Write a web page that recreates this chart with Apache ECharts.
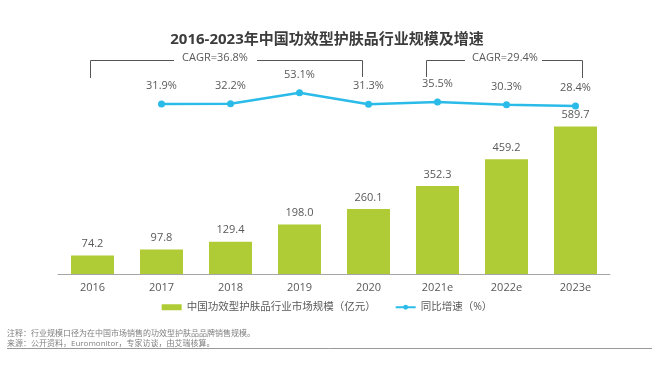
<!DOCTYPE html>
<html><head><meta charset="utf-8">
<script src="https://cdn.jsdelivr.net/npm/echarts@6/dist/echarts.min.js"></script>
<style>html,body{margin:0;padding:0;background:#fff}#c{width:654px;height:365px}</style>
</head><body><div id="c"></div>
<script>
const categories = ['2016','2017','2018','2019','2020','2021e','2022e','2023e'];
const marketSize = [74.2, 97.8, 129.4, 198.0, 260.1, 352.3, 459.2, 589.7];
const growthRate = ['-', 31.9, 32.2, 53.1, 31.3, 35.5, 30.3, 28.4];
const seriesNames = ['中国功效型护肤品行业市场规模（亿元）', '同比增速（%）'];
const titleText = '2016-2023年中国功效型护肤品行业规模及增速';
const cagrLabels = ['CAGR=36.8%', 'CAGR=29.4%'];
const notes = ['注释：行业规模口径为在中国市场销售的功效型护肤品品牌销售规模。', '来源：公开资料，Euromonitor，专家访谈，由艾瑞核算。'];

const FONT = '"Open Sans","Noto Sans CJK SC",sans-serif';
const GREEN = '#afcb35', BLUE = '#2bbbe8', TXT = '#595959', BR = '#555';
const chart = echarts.init(document.getElementById('c'));
chart.setOption({
  animation:false,
  textStyle:{fontFamily:FONT},
  title:{text:titleText, left:'center', top:27, textStyle:{fontSize:15, fontWeight:'bold', color:'#3c3c3c', fontFamily:FONT}},
  grid:[
    {left:58, right:44, top:99, bottom:91},
    {left:58, right:44, top:78.4, bottom:244}
  ],
  xAxis:[
    {type:'category', gridIndex:0, data:categories, axisTick:{show:false},
     axisLine:{lineStyle:{color:'#a6a6a6', width:1}},
     axisLabel:{color:TXT, fontSize:11, margin:8, fontFamily:FONT}},
    {type:'category', gridIndex:1, data:categories, show:false}
  ],
  yAxis:[
    {type:'value', gridIndex:0, min:0, max:700, show:false, splitLine:{show:false}},
    {type:'value', gridIndex:1, min:0, max:80, show:false, splitLine:{show:false}}
  ],
  legend:{top:297, left:'center', itemGap:19, itemWidth:20, itemHeight:6,
    textStyle:{color:TXT, fontSize:10.5, fontFamily:FONT},
    data:[{name:seriesNames[0], icon:'rect'}, {name:seriesNames[1]}]},
  series:[
    {name:seriesNames[0], type:'bar', xAxisIndex:0, yAxisIndex:0, data:marketSize, barWidth:43,
     itemStyle:{color:GREEN},
     label:{show:true, position:'top', distance:6, color:TXT, fontSize:11, fontFamily:FONT,
       formatter:p=>p.value.toFixed(1)}},
    {name:seriesNames[1], type:'line', xAxisIndex:1, yAxisIndex:1, data:growthRate,
     symbol:'circle', symbolSize:7, lineStyle:{color:BLUE, width:2.5}, itemStyle:{color:BLUE},
     label:{show:true, position:'top', distance:9, color:TXT, fontSize:11, fontFamily:FONT,
       formatter:p=>p.value.toFixed(1)+'%'}}
  ],
  graphic:[
    {type:'polyline', silent:true, shape:{points:[[90.5,78],[90.5,60.5],[174,60.5]]}, style:{stroke:BR, lineWidth:1, fill:null}},
    {type:'polyline', silent:true, shape:{points:[[257,60.5],[362.5,60.5],[362.5,77]]}, style:{stroke:BR, lineWidth:1, fill:null}},
    {type:'text', silent:true, x:215, y:58, style:{text:cagrLabels[0], fill:TXT, font:'11px '+FONT, align:'center', verticalAlign:'middle'}},
    {type:'polyline', silent:true, shape:{points:[[426.5,77],[426.5,60.5],[465,60.5]]}, style:{stroke:BR, lineWidth:1, fill:null}},
    {type:'polyline', silent:true, shape:{points:[[542,60.5],[582.5,60.5],[582.5,78]]}, style:{stroke:BR, lineWidth:1, fill:null}},
    {type:'text', silent:true, x:505, y:58, style:{text:cagrLabels[1], fill:TXT, font:'11px '+FONT, align:'center', verticalAlign:'middle'}},
    {type:'text', silent:true, x:7, y:334, style:{text:notes[0], fill:'#808080', font:'8px '+FONT, verticalAlign:'middle'}},
    {type:'text', silent:true, x:7, y:344, style:{text:notes[1], fill:'#808080', font:'8px '+FONT, verticalAlign:'middle'}},
    {type:'line', silent:true, shape:{x1:7, y1:348.5, x2:652, y2:348.5}, style:{stroke:'#999', lineWidth:1}}
  ]
});
</script></body></html>
